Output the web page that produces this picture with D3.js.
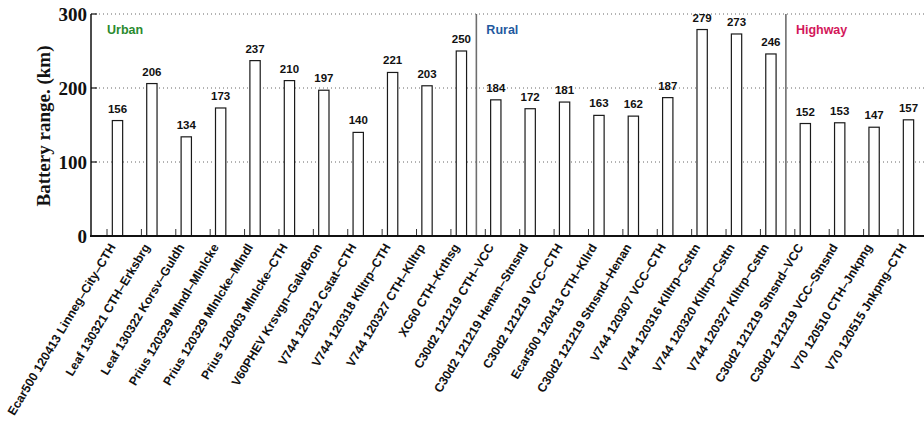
<!DOCTYPE html>
<html><head><meta charset="utf-8">
<script src="https://cdn.jsdelivr.net/npm/d3@7"></script>
<style>body{margin:0;background:#fff}svg{display:block}</style>
</head><body>
<script>
const labels = [
  "Ecar500 120413 Linneg–City–CTH","Leaf 130321 CTH–Erksbrg","Leaf 130322 Korsv–Guldh",
  "Prius 120329 Mlndl–Mlnlcke","Prius 120329 Mlnlcke–Mlndl","Prius 120403 Mlnlcke–CTH",
  "V60PHEV Krsvgn–GalvBron","V744 120312 Cstat–CTH","V744 120318 Klltrp–CTH",
  "V744 120327 CTH–Klltrp","XC60 CTH–Krthsg",
  "C30d2 121219 CTH–VCC","C30d2 121219 Henan–Stnsnd","C30d2 121219 VCC–CTH",
  "Ecar500 120413 CTH–Kllrd","C30d2 121219 Stnsnd–Henan","V744 120307 VCC–CTH",
  "V744 120316 Klltrp–Csttn","V744 120320 Klltrp–Csttn","V744 120327 Klltrp–Csttn",
  "C30d2 121219 Stnsnd–VCC","C30d2 121219 VCC–Stnsnd","V70 120510 CTH–Jnkpng","V70 120515 Jnkpng–CTH"
];
const values = [156,206,134,173,237,210,197,140,221,203,250,184,172,181,163,162,187,279,273,246,152,153,147,157];
const groupNames = ["Urban","Rural","Highway"];
const groupSizes = [11,9,4];
const groupColors = ["#2a8a2e","#1f5aa0","#d3175a"];
const yTicks = [0,100,200,300];
const yTitle = "Battery range. (km)";

const W = 924, H = 422;
const svg = d3.select("body").append("svg").attr("width", W).attr("height", H);

const x = d3.scaleLinear().domain([0, labels.length - 1]).range([107, 898]);
const y = d3.scaleLinear().domain([0, 300]).range([236, 14]);
const left = 91, right = W;
const barOff = 0.305, barW = 0.30;
const step = x(1) - x(0);

// grid
svg.append("g").selectAll("line").data(yTicks.filter(d => d > 0)).join("line")
  .attr("x1", left).attr("x2", right).attr("y1", d => y(d)).attr("y2", d => y(d))
  .attr("stroke", "#666").attr("stroke-width", 1).attr("stroke-dasharray", "1,3");

// separators
let cum = 0;
const seps = [];
groupSizes.forEach((s, gi) => { if (gi > 0) seps.push(cum - 1 + 0.74); cum += s; });
svg.append("g").selectAll("line").data(seps).join("line")
  .attr("x1", d => x(d)).attr("x2", d => x(d)).attr("y1", y(300)).attr("y2", y(0))
  .attr("stroke", "#6e6e6e").attr("stroke-width", 1.6);

// group labels
svg.append("g").selectAll("text").data(groupNames).join("text")
  .attr("x", (d, i) => i === 0 ? x(0) : x(seps[i - 1]) + 10)
  .attr("y", 34)
  .attr("fill", (d, i) => groupColors[i])
  .attr("font-family", "Liberation Sans, Arial, sans-serif").attr("font-weight", "bold").attr("font-size", 12.5)
  .text(d => d);

// bars
svg.append("g").selectAll("rect").data(values).join("rect")
  .attr("x", (d, i) => x(i + barOff - barW / 2))
  .attr("width", step * barW)
  .attr("y", d => y(d))
  .attr("height", d => y(0) - y(d))
  .attr("fill", "#fff").attr("stroke", "#1a1a1a").attr("stroke-width", 1.2);

// value labels
svg.append("g").selectAll("text").data(values).join("text")
  .attr("x", (d, i) => x(i + barOff))
  .attr("y", d => y(d) - 8)
  .attr("text-anchor", "middle")
  .attr("font-family", "Liberation Sans, Arial, sans-serif").attr("font-weight", "bold").attr("font-size", 11.5)
  .attr("fill", "#111")
  .text(d => d);

// x tick marks
svg.append("g").selectAll("line").data(labels).join("line")
  .attr("x1", (d, i) => x(i)).attr("x2", (d, i) => x(i))
  .attr("y1", y(0)).attr("y2", y(0) - 7)
  .attr("stroke", "#333").attr("stroke-width", 1);

// y tick marks
svg.append("g").selectAll("line").data(yTicks).join("line")
  .attr("x1", left).attr("x2", left + 6).attr("y1", d => y(d)).attr("y2", d => y(d))
  .attr("stroke", "#111").attr("stroke-width", 1.2);

// axes lines
svg.append("line").attr("x1", left).attr("x2", left).attr("y1", y(300)).attr("y2", y(0) + 1)
  .attr("stroke", "#111").attr("stroke-width", 1.5);
svg.append("line").attr("x1", left - 1).attr("x2", right).attr("y1", y(0)).attr("y2", y(0))
  .attr("stroke", "#111").attr("stroke-width", 2);

// y tick labels
svg.append("g").selectAll("text").data(yTicks).join("text")
  .attr("x", 87).attr("y", d => y(d)).attr("dy", "0.35em")
  .attr("text-anchor", "end")
  .attr("font-family", "Liberation Serif, Times New Roman, serif").attr("font-weight", "bold").attr("font-size", 19)
  .attr("fill", "#111")
  .text(d => d);

// y title
svg.append("text")
  .attr("transform", "translate(50,126) rotate(-90)")
  .attr("text-anchor", "middle")
  .attr("font-family", "Liberation Serif, Times New Roman, serif").attr("font-weight", "bold").attr("font-size", 19)
  .attr("fill", "#111")
  .text(yTitle);

// x labels
svg.append("g").selectAll("text").data(labels).join("text")
  .attr("transform", (d, i) => `translate(${x(i) + 9},${y(0) + 11}) rotate(-59)`)
  .attr("text-anchor", "end")
  .attr("font-family", "Liberation Sans, Arial, sans-serif").attr("font-weight", "bold").attr("font-size", 12.3)
  .attr("fill", "#111")
  .text(d => d);
</script>
</body></html>
